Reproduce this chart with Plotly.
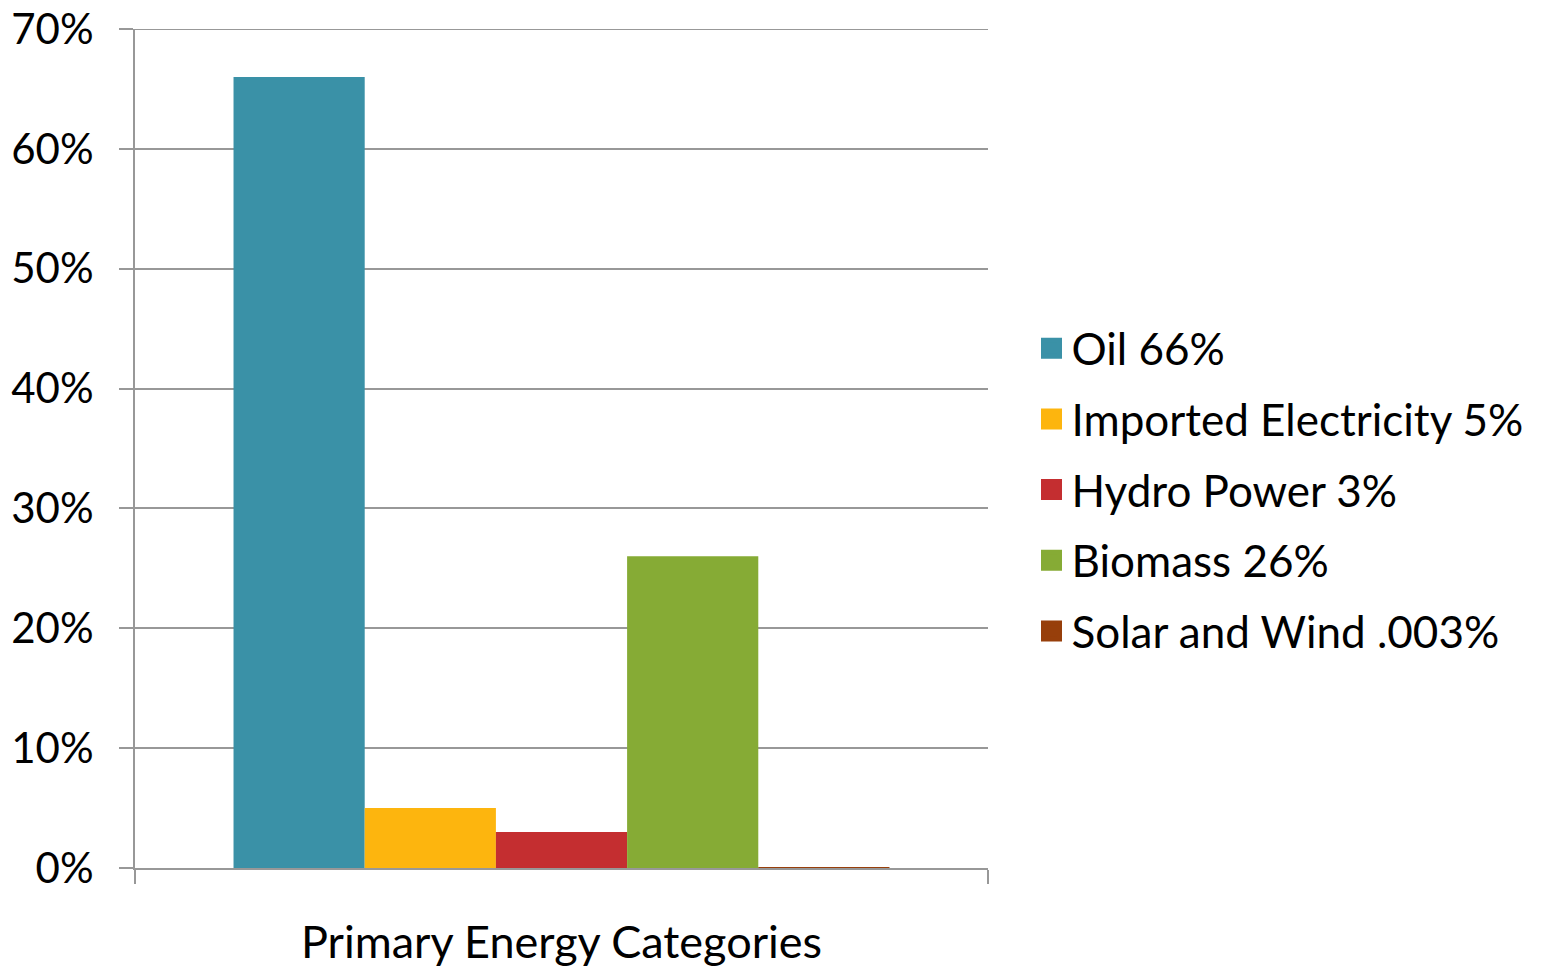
import plotly.graph_objects as go

category = ["Primary Energy Categories"]
series_names = ["Oil 66%", "Imported Electricity 5%", "Hydro Power 3%", "Biomass 26%", "Solar and Wind .003%"]
series_values = [0.66, 0.05, 0.03, 0.26, 0.00003]
series_colors = ["#3A91A7", "#FDB50E", "#C42E30", "#86AB35", "#973F0B"]
y_tick_vals = [0, 0.1, 0.2, 0.3, 0.4, 0.5, 0.6, 0.7]
y_max = 0.7

FONT = "Lato, 'Open Sans', sans-serif"
GRID = "#989898"

fig = go.Figure()
for i, (name, val, col) in enumerate(zip(series_names, series_values, series_colors)):
    fig.add_trace(go.Bar(
        x=category, y=[val], name=name, marker=dict(color=col, line=dict(width=0)),
        legendgroup=f"g{i}", showlegend=False,
    ))
# legend entries with larger square swatches
for i, (name, col) in enumerate(zip(series_names, series_colors)):
    fig.add_trace(go.Scatter(
        x=[None], y=[None], mode="markers", name=name,
        marker=dict(symbol="square", size=16, color=col, line=dict(color=col, width=5)),
        legendgroup=f"g{i}", showlegend=True,
    ))

# top gridline (plotly omits gridlines lying on the plot edge)
fig.add_shape(type="line", xref="paper", x0=0, x1=1, yref="y", y0=y_max, y1=y_max,
              line=dict(color=GRID, width=2), layer="below")

fig.update_layout(
    width=1542, height=959,
    margin=dict(l=127, r=562, t=21, b=99),
    paper_bgcolor="white", plot_bgcolor="white",
    barmode="group", bargap=0.231, bargroupgap=0,
    font=dict(family=FONT, size=44, color="#000000"),
    showlegend=True,
    legend=dict(
        x=1.051, xanchor="left", y=0.451, yanchor="middle",
        font=dict(family=FONT, size=44, color="#000000"),
        tracegroupgap=10.5, itemwidth=30,
        bgcolor="rgba(0,0,0,0)",
    ),
    xaxis=dict(
        type="category", tickson="boundaries", ticks="outside", ticklen=14,
        tickcolor=GRID, tickwidth=2, showline=True, linecolor=GRID, linewidth=2,
        showgrid=False, tickfont=dict(family=FONT, size=45, color="#000000"),
        ticklabelstandoff=34, automargin=False, layer="above traces",
        ticklabeloverflow="allow",
    ),
    yaxis=dict(
        range=[0, y_max], tickvals=y_tick_vals, tickformat=".0%",
        ticks="outside", ticklen=14, tickcolor=GRID, tickwidth=2,
        showline=True, linecolor=GRID, linewidth=2,
        showgrid=True, gridcolor=GRID, gridwidth=2, zeroline=False,
        tickfont=dict(family=FONT, size=42, color="#000000"),
        ticklabelstandoff=17, automargin=False, ticklabeloverflow="allow",
    ),
)

fig.write_html("out.html")
